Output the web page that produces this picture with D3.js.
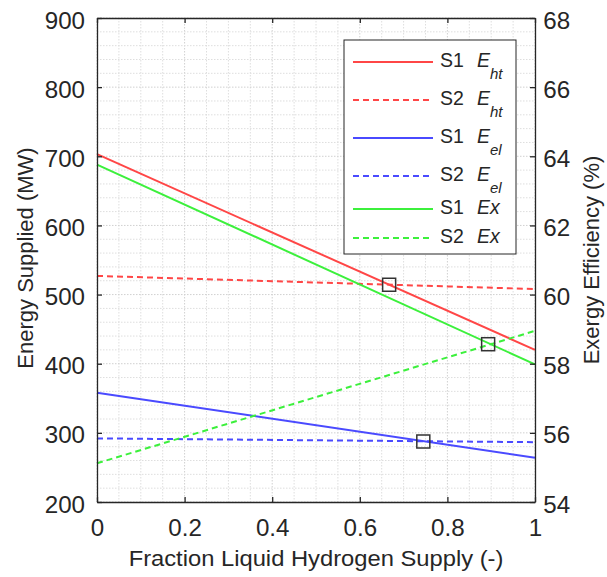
<!DOCTYPE html>
<html><head><meta charset="utf-8">
<script src="https://cdn.jsdelivr.net/npm/d3@7"></script>
<style>
body{margin:0;background:#fff;}
text{font-family:"Liberation Sans",Arial,sans-serif;fill:#262626;}
</style></head>
<body><svg id="c" width="607" height="577"></svg>
<script>
// ---- data ----
const xTicks = [0, 0.2, 0.4, 0.6, 0.8, 1];
const xTickLabels = ["0", "0.2", "0.4", "0.6", "0.8", "1"];
const leftTicks = [200, 300, 400, 500, 600, 700, 800, 900];
const rightTicks = [54, 56, 58, 60, 62, 64, 66, 68];
const fraction = [0, 1];
const s1Eht = [703, 420];      // MW (left axis)
const s2Eht = [527, 508];      // MW
const s1Eel = [358, 264];      // MW
const s2Eel = [292, 286.5];    // MW
const s1Ex  = [63.76, 57.98];  // % (right axis)
const s2Ex  = [55.12, 58.95];  // %
const markerX = [0.667, 0.893, 0.745];
const markerLeftVal = [514.2, 428.2, 287.5];
const legendLabels = [["S1","E","ht"],["S2","E","ht"],["S1","E","el"],["S2","E","el"],["S1","Ex",""],["S2","Ex",""]];

const RED="#ff4646", BLUE="#4a4aff", GREEN="#3cf03c";
const SX = 1.05;

const svg = d3.select("#c");
const L=97, R=535, T=18, B=502;
const x = d3.scaleLinear().domain([0,1]).range([L,R]);
const yL = d3.scaleLinear().domain([200,900]).range([B,T]);
const yR = d3.scaleLinear().domain([54,68]).range([B,T]);

// grid
const g = svg.append("g");
const minorX = d3.range(0,1.0001,0.05);
const minorY = d3.range(200,900.1,20);
g.selectAll(".gx").data(minorX).enter().append("line")
  .attr("x1",d=>x(d)).attr("x2",d=>x(d)).attr("y1",T).attr("y2",B)
  .attr("stroke",d=>(Math.abs(d*5-Math.round(d*5))<1e-6)?"#d0d0d0":"#dedede")
  .attr("stroke-width",1).attr("stroke-dasharray","1.5,1.5");
g.selectAll(".gy").data(minorY).enter().append("line")
  .attr("x1",L).attr("x2",R).attr("y1",d=>yL(d)).attr("y2",d=>yL(d))
  .attr("stroke",d=>(d%100===0)?"#d0d0d0":"#dedede")
  .attr("stroke-width",1).attr("stroke-dasharray","1.5,1.5");

// lines
const lineL = d3.line().x(d=>x(d[0])).y(d=>yL(d[1]));
const lineR = d3.line().x(d=>x(d[0])).y(d=>yR(d[1]));
const series = [
  {v:s1Eht, ax:"L", c:RED, dash:null},
  {v:s2Eht, ax:"L", c:RED, dash:"6,4"},
  {v:s1Eel, ax:"L", c:BLUE, dash:null},
  {v:s2Eel, ax:"L", c:BLUE, dash:"6,4"},
  {v:s1Ex, ax:"R", c:GREEN, dash:null},
  {v:s2Ex, ax:"R", c:GREEN, dash:"6,4"}
];
series.forEach(s=>{
  const pts = fraction.map((f,i)=>[f,s.v[i]]);
  svg.append("path").attr("d",(s.ax==="L"?lineL:lineR)(pts))
    .attr("fill","none").attr("stroke",s.c).attr("stroke-width",2)
    .attr("stroke-dasharray",s.dash);
});

// markers
markerX.forEach((mx,i)=>{
  svg.append("rect").attr("x",x(mx)-6.5).attr("y",yL(markerLeftVal[i])-6.5)
    .attr("width",13).attr("height",13).attr("fill","none")
    .attr("stroke","#333").attr("stroke-width",1.5);
});

// axes
const axStroke="#262626";
const axBottom = svg.append("g").attr("transform",`translate(0,${B})`)
  .call(d3.axisBottom(x).tickValues(xTicks).tickFormat((d,i)=>xTickLabels[i]).tickSizeInner(-5).tickSizeOuter(0));
const axTop = svg.append("g").attr("transform",`translate(0,${T})`)
  .call(d3.axisTop(x).tickValues(xTicks).tickFormat("").tickSizeInner(-5).tickSizeOuter(0));
const axLeft = svg.append("g").attr("transform",`translate(${L},0)`)
  .call(d3.axisLeft(yL).tickValues(leftTicks).tickSizeInner(-5).tickSizeOuter(0));
const axRight = svg.append("g").attr("transform",`translate(${R},0)`)
  .call(d3.axisRight(yR).tickValues(rightTicks).tickSizeInner(-5).tickSizeOuter(0));
[axBottom,axTop,axLeft,axRight].forEach(a=>{
  a.select(".domain").attr("stroke",axStroke).attr("stroke-width",1.3);
  a.selectAll(".tick line").attr("stroke",axStroke).attr("stroke-width",1.3);
  a.selectAll(".tick text").attr("font-size",23).attr("fill","#262626")
   .attr("font-family","'Liberation Sans',Arial,sans-serif")
   .attr("transform",`scale(${SX},1)`);
});
axBottom.selectAll(".tick text").attr("y",34).attr("dy",0);
axLeft.selectAll(".tick text").attr("x",-12/SX).attr("y",10).attr("dy",0);
axRight.selectAll(".tick text").attr("x",8.3/SX).attr("y",10).attr("dy",0);

// axis titles
svg.append("text").attr("transform",`translate(${(L+R)/2},566) scale(1.08,1)`).attr("text-anchor","middle")
  .attr("font-size",22).text("Fraction Liquid Hydrogen Supply (-)");
svg.append("text").attr("transform",`translate(33,${(T+B)/2-2}) rotate(-90)`)
  .attr("text-anchor","middle").attr("font-size",22).text("Energy Supplied (MW)");
svg.append("text").attr("transform",`translate(599,${(T+B)/2}) rotate(-90)`)
  .attr("text-anchor","middle").attr("font-size",22).text("Exergy Efficiency (%)");

// legend
const lg = svg.append("g");
lg.append("rect").attr("x",344).attr("y",40).attr("width",172).attr("height",214)
  .attr("fill","#fff").attr("stroke","#262626").attr("stroke-width",1);
const rowY = [62,100,138,176,209,238];
legendLabels.forEach((lab,i)=>{
  const s = series[i];
  lg.append("line").attr("x1",353).attr("x2",433).attr("y1",rowY[i]).attr("y2",rowY[i])
    .attr("stroke",s.c).attr("stroke-width",2).attr("stroke-dasharray",s.dash);
  lg.append("text").attr("x",440).attr("y",rowY[i]+4.5).attr("font-size",19.5).text(lab[0]);
  const t = lg.append("text").attr("x",477).attr("y",rowY[i]+4.5).attr("font-size",19.5).attr("font-style","italic");
  t.append("tspan").text(lab[1]);
  if(lab[2]) t.append("tspan").attr("dy",12.5).attr("font-size",15).text(lab[2]);
});
</script></body></html>
